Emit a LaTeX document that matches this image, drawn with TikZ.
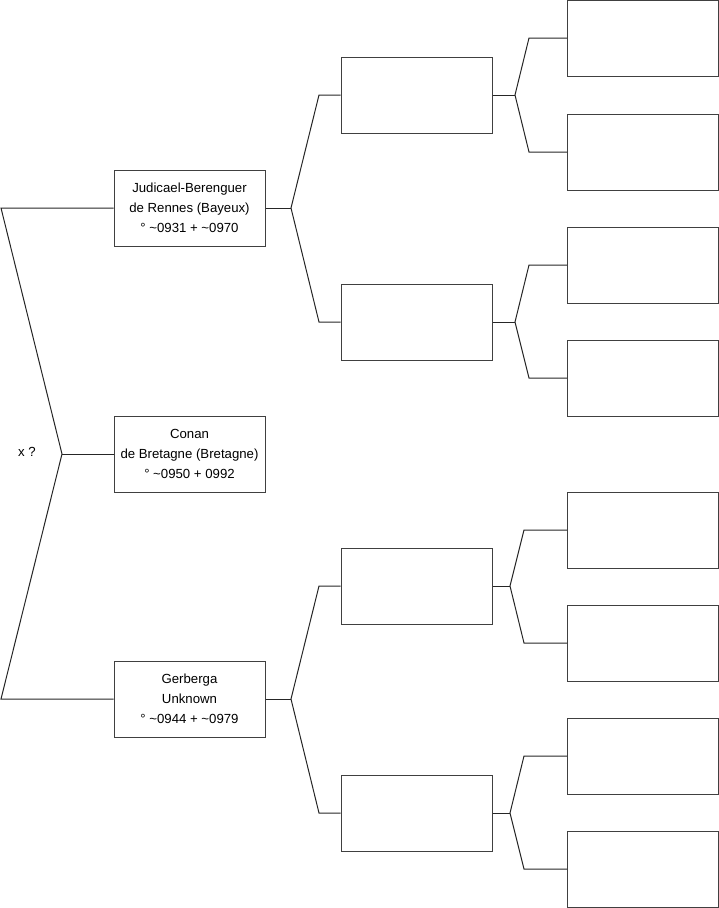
\documentclass[tikz,border=0pt]{standalone}
\usepackage{fontspec}
\setmainfont{Liberation Sans}
\begin{document}
\begin{tikzpicture}[x=1pt,y=-1pt,
  person/.style={draw=black!75, line width=1pt, rectangle, minimum width=151pt, minimum height=76pt, inner sep=0pt, align=center, font=\fontsize{13.2}{20}\selectfont},
  link/.style={draw=black!85, line width=1pt}]
\useasboundingbox (0,0) rectangle (719,908);
% first generation
\node[person] (p1) at (189.5,208) {Judicael-Berenguer\\de Rennes (Bayeux)\\° \textasciitilde0931 + \textasciitilde0970};
\node[person] (p0) at (189.5,454) {Conan\\de Bretagne (Bretagne)\\° \textasciitilde0950 + 0992};
\node[person] (p2) at (189.5,699) {Gerberga\\Unknown\\° \textasciitilde0944 + \textasciitilde0979};
% second generation
\node[person] (a) at (416.5,95) {};
\node[person] (b) at (416.5,322) {};
\node[person] (c) at (416.5,586) {};
\node[person] (d) at (416.5,813) {};
% third generation
\node[person] (a1) at (643,38) {};
\node[person] (a2) at (643,152) {};
\node[person] (b1) at (643,265) {};
\node[person] (b2) at (643,378) {};
\node[person] (c1) at (643,530) {};
\node[person] (c2) at (643,643) {};
\node[person] (d1) at (643,756) {};
\node[person] (d2) at (643,869) {};
% label
\node[font=\fontsize{13.2}{15}\selectfont] (x) at (27,452) {x ?};
% junction coordinates
\coordinate (jt) at (1,208);
\coordinate (jm) at (62,454);
\coordinate (jb) at (1,699);
\coordinate (j1) at (291,208);
\coordinate (j1a) at (319,95);
\coordinate (j1b) at (319,322);
\coordinate (j2) at (291,699);
\coordinate (j2c) at (319,586);
\coordinate (j2d) at (319,813);
\coordinate (ja) at (515,95);
\coordinate (ja1) at (529,38);
\coordinate (ja2) at (529,152);
\coordinate (jbb) at (515,322);
\coordinate (jb1) at (529,265);
\coordinate (jb2) at (529,378);
\coordinate (jc) at (510,586);
\coordinate (jc1) at (524,530);
\coordinate (jc2) at (524,643);
\coordinate (jd) at (510,813);
\coordinate (jd1) at (524,756);
\coordinate (jd2) at (524,869);
% connectors
\draw[link] (p1.west) -- (jt) -- (jm) -- (jb) -- (p2.west);
\draw[link] (jm) -- (p0.west);
\draw[link] (p1.east) -- (j1);
\draw[link] (a.west) -- (j1a) -- (j1) -- (j1b) -- (b.west);
\draw[link] (p2.east) -- (j2);
\draw[link] (c.west) -- (j2c) -- (j2) -- (j2d) -- (d.west);
\draw[link] (a.east) -- (ja);
\draw[link] (a1.west) -- (ja1) -- (ja) -- (ja2) -- (a2.west);
\draw[link] (b.east) -- (jbb);
\draw[link] (b1.west) -- (jb1) -- (jbb) -- (jb2) -- (b2.west);
\draw[link] (c.east) -- (jc);
\draw[link] (c1.west) -- (jc1) -- (jc) -- (jc2) -- (c2.west);
\draw[link] (d.east) -- (jd);
\draw[link] (d1.west) -- (jd1) -- (jd) -- (jd2) -- (d2.west);
\end{tikzpicture}
\end{document}
